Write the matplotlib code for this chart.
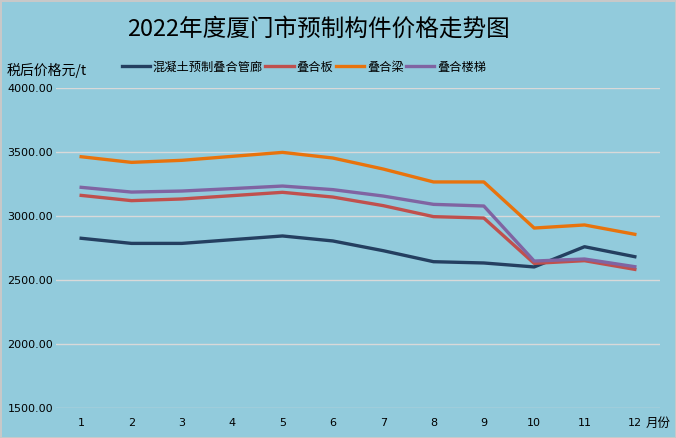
import numpy as np
import matplotlib
matplotlib.use("Agg")
import matplotlib.pyplot as plt

plt.rcParams['font.family'] = ['Noto Sans CJK SC', 'DejaVu Sans']

# data
months = ['1', '2', '3', '4', '5', '6', '7', '8', '9', '10', '11', '12']
guanlang = [2826, 2786, 2786, 2815, 2844, 2805, 2729, 2643, 2633, 2602, 2760, 2682]
diehe_ban = [3161, 3120, 3133, 3159, 3185, 3148, 3081, 2995, 2984, 2630, 2651, 2583]
diehe_liang = [3463, 3419, 3435, 3466, 3497, 3453, 3367, 3266, 3266, 2906, 2930, 2857]
diehe_louti = [3224, 3187, 3195, 3214, 3234, 3206, 3156, 3091, 3078, 2648, 2664, 2604]

names = ['混凝土预制叠合管廊', '叠合板', '叠合梁', '叠合楼梯']
colors = ['#243F60', '#C0504D', '#E8730C', '#8064A2']
bg = '#92CBDC'
narrow = ['Liberation Sans Narrow', 'DejaVu Sans']

fig = plt.figure(figsize=(6.76, 4.38), dpi=100, facecolor=bg,
                 edgecolor='#C8C8C8', linewidth=2)
ax = fig.add_axes([56/676, 30/438, 604/676, 320/438])
ax.set_facecolor(bg)

x = np.arange(len(months))
for vals, name, c in zip([guanlang, diehe_ban, diehe_liang, diehe_louti], names, colors):
    ax.plot(x, vals, color=c, lw=2.4, label=name, solid_joinstyle='round')

ax.set_xlim(-0.5, len(months) - 0.5)
ax.set_ylim(1500, 4000)
yt = np.arange(1500, 4001, 500)
ax.set_yticks(yt)
ax.set_yticklabels(['%.2f' % v for v in yt], fontsize=8, family=narrow)
ax.set_xticks(x)
ax.set_xticklabels(months, fontsize=8, family=narrow)
ax.tick_params(length=0)
ax.tick_params(axis='x', pad=7)
for lbl in ax.get_yticklabels():
    lbl.set_horizontalalignment('left')
ax.tick_params(axis='y', pad=35)
ax.grid(axis='y', color='#D9D9D9', lw=1)
ax.set_axisbelow(True)
for s in ax.spines.values():
    s.set_visible(False)

fig.text(318/676, 1 - 29/438, '2022年度厦门市预制构件价格走势图', fontsize=17,
         ha='center', va='center')
fig.text(7/676, 1 - 70/438, '税后价格元/t', fontsize=10, ha='left', va='center')
fig.text(646/676, 1 - 423/438, '月份', fontsize=9, ha='left', va='center')

fig.legend(loc='center', bbox_to_anchor=(304/676, 1 - 67/438), ncol=4, frameon=False,
           fontsize=8.8, handlelength=2.3, handletextpad=0.25, columnspacing=0.2,
           borderpad=0)

fig.savefig('out.png', dpi=100, facecolor=bg, edgecolor='#C8C8C8')
